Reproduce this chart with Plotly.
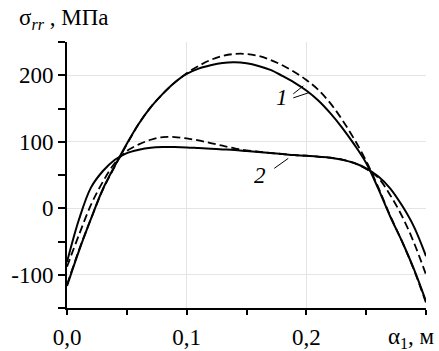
import plotly.graph_objects as go

x = [0.00, 0.01, 0.02, 0.03, 0.04, 0.05, 0.06, 0.07, 0.08, 0.09,
     0.10, 0.11, 0.12, 0.13, 0.14, 0.15, 0.16, 0.17, 0.18, 0.19,
     0.20, 0.21, 0.22, 0.23, 0.24, 0.25, 0.26, 0.27, 0.28, 0.29, 0.30]

s1_solid = [-117, -64, -16, 29, 64, 97, 127, 152, 172, 189,
            202, 210, 215, 218.5, 219.5, 218, 214, 208, 199, 189,
            177, 162, 143, 121, 96, 68, 30, -12, -50, -92, -140]
s1_dash = [-115, -63, -16, 28, 63, 96, 127, 152, 172, 189,
           203, 214, 223, 229, 232, 232, 229, 223, 215, 205,
           193, 178, 158, 133, 104, 71, 32, -11, -50, -93, -142]
s2_solid = [-81, -17, 31, 56, 73, 83, 88, 91, 92, 92,
            91.5, 90.5, 89.5, 88.5, 87.5, 86, 84.5, 83, 81.5, 80,
            79, 77.5, 76, 73, 68, 60, 48, 30, 4, -28, -72]
s2_dash = [-88, -40, 5, 40, 68, 86, 96, 103, 107, 107,
           105, 102, 98, 94, 90, 87, 85, 83, 81.5, 80,
           79, 77.5, 76, 73, 68, 59, 46, 20, -12, -52, -100]

x_tickvals = [0.0, 0.1, 0.2]
x_ticktext = ["0,0", "0,1", "0,2"]
y_tickvals = [-100, 0, 100, 200]
y_ticktext = ["-100", "0", "100", "200"]

FONT = "Liberation Serif"

fig = go.Figure()
for ys, dash, w in [(s1_solid, "solid", 2), (s1_dash, "8px,4px", 1.8),
                    (s2_solid, "solid", 2), (s2_dash, "8px,4px", 1.8)]:
    fig.add_trace(go.Scatter(x=x, y=ys, mode="lines",
                             line=dict(color="black", width=w, dash=dash,
                                       shape="spline", smoothing=1.0),
                             showlegend=False, hoverinfo="skip"))

fig.update_layout(
    width=439, height=351,
    margin=dict(l=67, r=13, t=42, b=43, autoexpand=False),
    paper_bgcolor="white", plot_bgcolor="white",
    font=dict(family=FONT, size=22, color="black"),
    xaxis=dict(range=[0, 0.3], tickmode="array", tickvals=x_tickvals,
               ticktext=x_ticktext, ticks="outside", ticklen=5, tickwidth=1.5,
               tickcolor="black", showline=True, linecolor="black", linewidth=2,
               showgrid=True, gridcolor="#e4e4e4", gridwidth=1, zeroline=False,
               tickfont=dict(family=FONT, size=23), ticklabelstandoff=2,
               automargin=False,
               minor=dict(dtick=0.05, tick0=0, ticks="outside", ticklen=5,
                          tickwidth=1.5, tickcolor="black", showgrid=False)),
    yaxis=dict(range=[-150, 250], tickmode="array", tickvals=y_tickvals,
               ticktext=y_ticktext, ticks="outside", ticklen=7, tickwidth=1.5,
               tickcolor="black", showline=True, linecolor="black", linewidth=2,
               showgrid=True, gridcolor="#e4e4e4", gridwidth=1, zeroline=False,
               tickfont=dict(family=FONT, size=23), automargin=False,
               minor=dict(dtick=50, tick0=0, ticks="outside", ticklen=7,
                          tickwidth=1.5, tickcolor="black", showgrid=False)),
)

# axis titles
fig.add_annotation(text="σ<sub><i>rr</i></sub> , МПа", xref="paper", yref="paper",
                   x=-50/359, y=1 + 23/266, xanchor="left", yanchor="middle",
                   showarrow=False, font=dict(family=FONT, size=23))
fig.add_annotation(text="α<sub>1</sub>, м", xref="paper", yref="paper",
                   x=1.0 + 11/359, y=-30/266, xanchor="right", yanchor="middle",
                   showarrow=False, font=dict(family=FONT, size=23))

# curve labels
fig.add_annotation(text="<i>1</i>", x=0.18, y=166, showarrow=False,
                   font=dict(family=FONT, size=23))
fig.add_annotation(text="<i>2</i>", x=0.1615, y=50, showarrow=False,
                   font=dict(family=FONT, size=23))

# leader lines
for (x0, y0, x1, y1) in [(0.1891, 172, 0.1975, 184),
                         (0.1891, 166, 0.2025, 174),
                         (0.1732, 60, 0.1849, 75)]:
    fig.add_shape(type="line", x0=x0, y0=y0, x1=x1, y1=y1,
                  line=dict(color="black", width=1))

fig.write_html("out.html")
